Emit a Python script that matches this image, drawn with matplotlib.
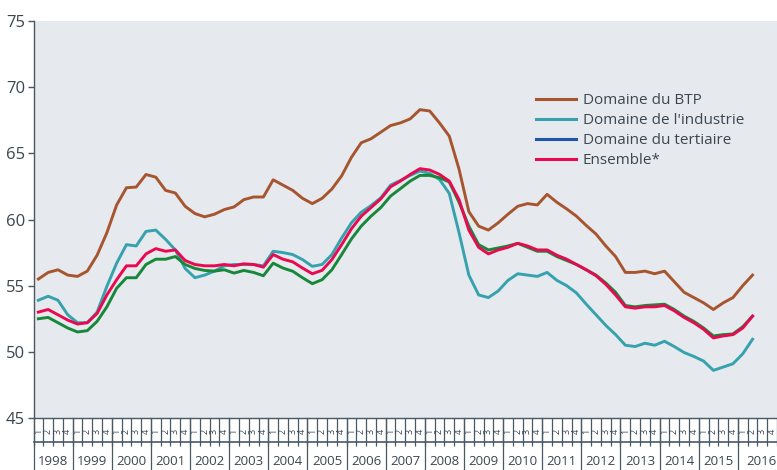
import matplotlib
matplotlib.use("Agg")
import matplotlib.pyplot as plt
from matplotlib.lines import Line2D

plt.rcParams['font.family'] = ['Open Sans', 'DejaVu Sans']

# quarterly series, 1998 T1 .. 2016 T2
years = list(range(1998, 2017))
quarters = ['1', '2', '3', '4']

btp = [55.5, 56.0, 56.2, 55.8, 55.7, 56.1, 57.3, 59.0, 61.1, 62.4, 62.45, 63.4,
       63.2, 62.2, 62.0, 61.0, 60.45, 60.2, 60.4, 60.75, 60.95, 61.5, 61.7, 61.7,
       63.0, 62.6, 62.2, 61.6, 61.2, 61.6, 62.3, 63.3, 64.7, 65.8, 66.1, 66.6,
       67.1, 67.3, 67.6, 68.3, 68.2, 67.3, 66.3, 63.8, 60.6, 59.5, 59.2, 59.75,
       60.4, 61.0, 61.2, 61.1, 61.9, 61.3, 60.8, 60.25, 59.55, 58.9, 58.0, 57.2,
       56.0, 56.0, 56.1, 55.9, 56.1, 55.3, 54.5, 54.1, 53.7, 53.2, 53.7, 54.1,
       55.0, 55.8]
industrie = [53.9, 54.2, 53.9, 52.8, 52.2, 52.2, 53.0, 54.95, 56.7, 58.1, 58.0, 59.1,
             59.2, 58.5, 57.7, 56.3, 55.6, 55.8, 56.1, 56.5, 56.6, 56.6, 56.6, 56.5,
             57.6, 57.5, 57.35, 56.97, 56.46, 56.6, 57.35, 58.6, 59.75, 60.55, 61.05, 61.64,
             62.6, 62.95, 63.33, 63.66, 63.48, 63.03, 61.97, 59.0, 55.8, 54.3, 54.1, 54.6,
             55.4, 55.9, 55.8, 55.7, 56.0, 55.4, 55.0, 54.45, 53.6, 52.8, 52.0, 51.3,
             50.5, 50.4, 50.65, 50.5, 50.8, 50.4, 49.95, 49.65, 49.3, 48.6, 48.85, 49.1,
             49.85, 50.95]
tertiaire = [52.5, 52.6, 52.2, 51.8, 51.5, 51.6, 52.3, 53.4, 54.8, 55.6, 55.6, 56.6,
             57.0, 57.0, 57.2, 56.6, 56.3, 56.15, 56.1, 56.2, 55.95, 56.15, 56.0, 55.75,
             56.7, 56.33, 56.09, 55.6, 55.15, 55.45, 56.2, 57.35, 58.53, 59.5, 60.25, 60.9,
             61.77, 62.33, 62.9, 63.33, 63.33, 63.16, 62.83, 61.3, 59.5, 58.1, 57.7, 57.85,
             58.0, 58.2, 57.9, 57.6, 57.6, 57.2, 56.9, 56.6, 56.2, 55.8, 55.2, 54.5,
             53.5, 53.4, 53.5, 53.55, 53.6, 53.2, 52.7, 52.3, 51.8, 51.2, 51.3, 51.35,
             51.9, 52.7]
ensemble = [53.0, 53.2, 52.8, 52.4, 52.1, 52.2, 52.9, 54.3, 55.45, 56.5, 56.5, 57.4,
            57.8, 57.6, 57.7, 56.9, 56.6, 56.5, 56.5, 56.6, 56.5, 56.65, 56.6, 56.4,
            57.35, 57.0, 56.8, 56.33, 55.9, 56.16, 56.97, 58.1, 59.3, 60.25, 60.9, 61.56,
            62.47, 62.9, 63.4, 63.84, 63.74, 63.41, 62.9, 61.5, 59.2, 57.9, 57.4, 57.7,
            57.9, 58.2, 58.0, 57.7, 57.7, 57.3, 57.0, 56.6, 56.2, 55.75, 55.1, 54.3,
            53.4, 53.3, 53.4, 53.4, 53.5, 53.1, 52.6, 52.2, 51.7, 51.05, 51.2, 51.3,
            51.8, 52.7]

labels = ["Domaine du BTP", "Domaine de l'industrie", "Domaine du tertiaire", "Ensemble*"]

c_btp = '#A6552F'
c_ind = '#35A2AE'
c_ter = '#17883A'
c_ter_leg = '#1F58A8'
c_ens = '#E8094F'
txt = '#3B4650'
axc = '#4A5864'

fig = plt.figure(figsize=(7.77, 4.70), dpi=100)
n_slots = 4 * len(years)
qw = 9.9  # px per quarter
ax_w = 777 - 33.5
ax = fig.add_axes([33.5 / 777, 52 / 470, ax_w / 777, 397 / 470])
ax.set_facecolor('#E6E9EE')

x = list(range(len(btp)))
ax.plot(x, btp, color=c_btp, lw=2.1)
ax.plot(x, industrie, color=c_ind, lw=2.1)
ax.plot(x, tertiaire, color=c_ter, lw=2.1)
ax.plot(x, ensemble, color=c_ens, lw=2.1)

ax.set_xlim(-0.5, -0.5 + ax_w / qw)
ax.set_ylim(45, 75)
ax.set_yticks(range(45, 76, 5))

for s in ['top', 'right']:
    ax.spines[s].set_visible(False)
for s in ['left', 'bottom']:
    ax.spines[s].set_color(axc)
    ax.spines[s].set_linewidth(1.0)

ax.tick_params(axis='y', colors=axc, labelcolor=txt, labelsize=12, length=4, width=1, pad=2)

# quarter boundaries as major ticks, quarter numbers as minor labels
ax.set_xticks([i - 0.5 for i in range(n_slots + 1)])
ax.set_xticklabels([])
ax.set_xticks(range(n_slots), minor=True)
ax.set_xticklabels([quarters[i % 4] for i in range(n_slots)], minor=True,
                   rotation=90, fontsize=6.5, color=txt)
ax.tick_params(axis='x', which='major', length=20, width=0.9, color=axc)
ax.tick_params(axis='x', which='minor', length=0, pad=8)

tr = ax.get_xaxis_transform()
ax.add_line(Line2D([-0.5, n_slots - 0.5], [-0.06, -0.06], transform=tr,
                   color=axc, lw=1.2, clip_on=False))
for k, yr in enumerate(years):
    ax.add_line(Line2D([4 * k - 0.5, 4 * k - 0.5], [0, -0.14], transform=tr,
                       color=axc, lw=0.9, clip_on=False))
    if yr < years[-1]:
        ax.text(4 * k + 1.5, -0.093, str(yr), transform=tr, ha='center', va='top',
                fontsize=9.5, color=txt, clip_on=False)
# last year label is squeezed against the right border
fig.text(0.999, 1 - 455 / 470, str(years[-1]), ha='right', va='top', fontsize=9.5, color=txt)

handles = [Line2D([], [], color=c, lw=2.2) for c in [c_btp, c_ind, c_ter_leg, c_ens]]
leg = fig.legend(handles, labels, loc='upper left', bbox_to_anchor=(536 / 777, 1 - 93 / 470),
                 frameon=False, fontsize=11, handlelength=2.6, handletextpad=0.45,
                 labelspacing=0.33, borderpad=0, borderaxespad=0)
for t in leg.get_texts():
    t.set_color(txt)

fig.savefig('out.png', dpi=100)
